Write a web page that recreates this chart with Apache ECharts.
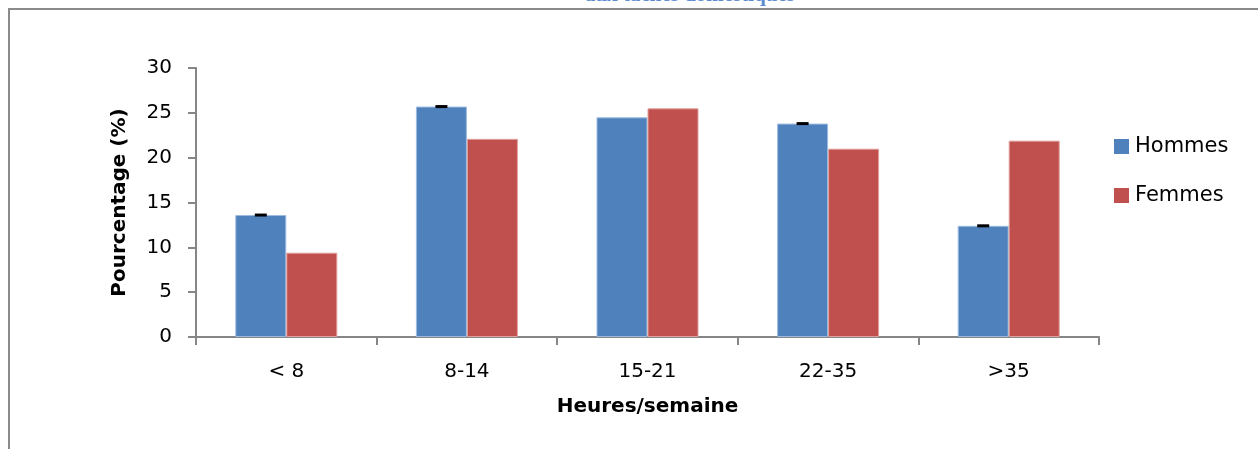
<!DOCTYPE html>
<html>
<head>
<meta charset="utf-8">
<script src="https://cdn.jsdelivr.net/npm/echarts@6/dist/echarts.min.js"></script>
<style>
html,body{margin:0;padding:0;background:#fff;}
#chart{width:1258px;height:449px;}
</style>
</head>
<body>
<div id="chart"></div>
<script>
const categories = ['< 8', '8-14', '15-21', '22-35', '>35'];
const hommes = [13.6, 25.7, 24.5, 23.8, 12.4];
const femmes = [9.4, 22.1, 25.5, 21.0, 21.9];
const hommesErr = [0.05, 0.05, null, 0.05, 0.05];
const seriesNames = ['Hommes', 'Femmes'];
const titleText = 'aux tâches domestiques';
const yAxisTitle = 'Pourcentage (%)';
const xAxisTitle = 'Heures/semaine';

const FONT = "'DejaVu Sans', 'Liberation Sans', sans-serif";
const BAR_W = 51;

const chart = echarts.init(document.getElementById('chart'));
chart.setOption({
  animation: false,
  backgroundColor: '#fff',
  textStyle: { fontFamily: FONT },
  graphic: [
    {
      type: 'rect', silent: true, z: 0,
      shape: { x: 9, y: 9, width: 1300, height: 500 },
      style: { fill: 'none', stroke: '#8a8a8a', lineWidth: 2 }
    },
    {
      type: 'text', silent: true, z: 10,
      x: 690, y: 6,
      style: {
        text: titleText,
        fill: '#5b8bd0',
        font: "bold 21px 'Liberation Serif', 'DejaVu Serif', serif",
        align: 'center',
        verticalAlign: 'bottom'
      }
    }
  ],
  legend: {
    orient: 'vertical',
    left: 1109,
    top: 131,
    itemWidth: 15,
    itemHeight: 15,
    itemGap: 28,
    icon: 'rect',
    itemStyle: { borderWidth: 0 },
    textStyle: { fontSize: 21, color: '#000', fontFamily: FONT, padding: [0, 0, 0, 1] },
    data: seriesNames
  },
  grid: { left: 196, right: 159, top: 68, bottom: 112, containLabel: false },
  xAxis: {
    type: 'category',
    data: categories,
    name: xAxisTitle,
    nameLocation: 'middle',
    nameGap: 60,
    nameTextStyle: { fontSize: 20, fontWeight: 'bold', color: '#000', fontFamily: FONT },
    axisLine: { lineStyle: { color: '#868686', width: 2 } },
    axisTick: { show: true, length: 8, interval: 0, lineStyle: { color: '#868686', width: 2 } },
    axisLabel: { fontSize: 20, color: '#000', margin: 25, fontFamily: FONT }
  },
  yAxis: {
    type: 'value',
    min: 0, max: 30, interval: 5,
    name: yAxisTitle,
    nameLocation: 'middle',
    nameGap: 66,
    nameRotate: 90,
    nameTextStyle: { fontSize: 20, fontWeight: 'bold', color: '#000', fontFamily: FONT },
    axisLine: { show: true, lineStyle: { color: '#868686', width: 2 } },
    axisTick: { show: true, length: 8, lineStyle: { color: '#868686', width: 2 } },
    splitLine: { show: false },
    axisLabel: { fontSize: 20, color: '#000', margin: 24, fontFamily: FONT }
  },
  series: [
    {
      name: seriesNames[0], type: 'bar', data: hommes,
      barWidth: BAR_W, barGap: '0%',
      itemStyle: { color: '#4f81bd', borderColor: '#9dbbe0', borderWidth: 1 }
    },
    {
      name: seriesNames[1], type: 'bar', data: femmes,
      barWidth: BAR_W, barGap: '0%',
      itemStyle: { color: '#c0504d', borderColor: '#e0a09e', borderWidth: 1 }
    },
    {
      type: 'custom', name: 'err', z: 5, silent: true,
      data: hommes.map((v, i) => [i, v, hommesErr[i]]),
      renderItem: function (params, api) {
        const err = api.value(2);
        if (err == null || isNaN(err)) return null;
        const v = api.value(1);
        const c = api.coord([api.value(0), v]);
        const top = api.coord([api.value(0), v + err])[1];
        const bot = api.coord([api.value(0), v - err])[1];
        const cx = c[0] - BAR_W / 2;
        const h = Math.max(3, bot - top);
        return {
          type: 'rect',
          shape: { x: cx - 6, y: (top + bot) / 2 - h / 2, width: 12, height: h },
          style: { fill: '#000' }
        };
      }
    }
  ]
});
</script>
</body>
</html>
